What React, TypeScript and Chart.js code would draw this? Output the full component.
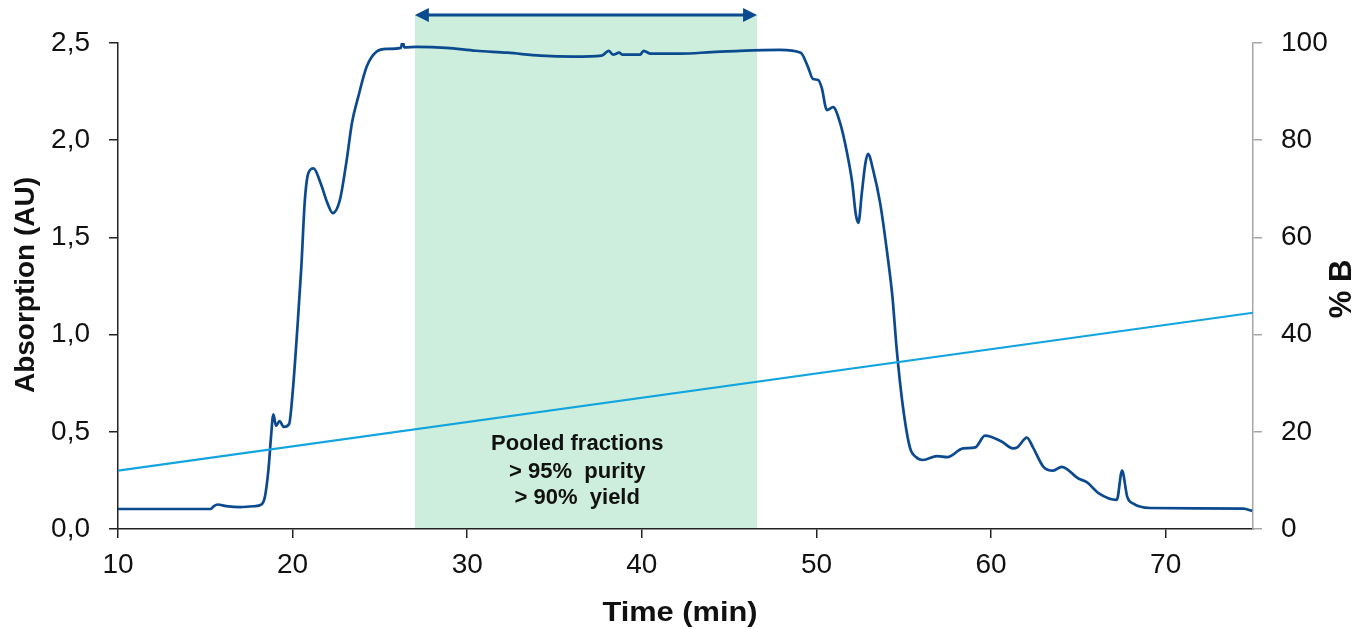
import React, { useEffect, useRef } from "react";
import { Chart, registerables } from "chart.js";

Chart.register(...registerables);

// Absorbance trace (time in min, absorption in AU)
const timeMin = [
  10, 15.3, 15.5, 15.7, 16.2, 17.0, 17.8, 18.2, 18.4, 18.55, 18.65, 18.75, 18.9, 19.05, 19.25, 19.5, 19.8,
  20.0, 20.3, 20.5, 20.7, 20.9, 21.2, 21.6, 22.0, 22.3, 22.7, 23.1, 23.4, 23.75, 24.25, 24.8, 25.4,
  26.2, 26.3, 26.4, 27.1, 28.8, 30.5, 32.3, 34.2, 36.1, 37.7, 38.1, 38.35, 38.7, 38.9, 39.9, 40.1,
  40.5, 42.2, 44.0, 45.6, 47.9, 49.1, 49.5, 49.8, 50.1, 50.3, 50.6, 50.95, 51.35, 51.75, 52.05,
  52.25, 52.4, 52.6, 52.8, 52.95, 53.25, 53.65, 54.05, 54.35, 54.6, 54.95, 55.35, 55.7, 56.1, 56.9,
  57.5, 58.4, 59.1, 59.65, 60.6, 61.25, 61.5, 62.05, 62.4, 63.0, 63.55, 64.05, 65.0, 65.5, 66.15,
  67.2, 67.5, 67.8, 68.15, 69.1, 74.45, 74.95,
];
const absorbance = [
  0.103, 0.103, 0.118, 0.126, 0.118, 0.113, 0.117, 0.125, 0.16, 0.25, 0.34, 0.46, 0.59, 0.53, 0.555, 0.525, 0.54,
  0.7, 1.07, 1.35, 1.69, 1.83, 1.855, 1.78, 1.675, 1.625, 1.69, 1.9, 2.09, 2.22, 2.38, 2.455, 2.47,
  2.475, 2.51, 2.478, 2.48, 2.475, 2.46, 2.45, 2.435, 2.43, 2.435, 2.46, 2.44, 2.45, 2.44, 2.44, 2.46,
  2.445, 2.445, 2.453, 2.46, 2.465, 2.45, 2.38, 2.315, 2.31, 2.27, 2.155, 2.17, 2.09, 1.935, 1.78,
  1.62, 1.575, 1.73, 1.88, 1.93, 1.845, 1.675, 1.42, 1.195, 0.92, 0.63, 0.42, 0.37, 0.355, 0.375,
  0.37, 0.415, 0.42, 0.48, 0.45, 0.415, 0.42, 0.47, 0.42, 0.32, 0.3, 0.32, 0.26, 0.24, 0.185,
  0.15, 0.3, 0.165, 0.13, 0.108, 0.105, 0.093,
];

// Gradient (% B)
const gradientTime = [10, 75];
const gradientB = [12, 44.5];

// Pooled fraction window (min)
const poolStart = 27.0;
const poolEnd = 46.6;
const poolLabelX = 36.3;
const poolLabels = ["Pooled fractions", "> 95%  purity", "> 90%  yield"];

// Axis labels
const xTitle = "Time (min)";
const yTitle = "Absorption (AU)";
const y2Title = "% B";

const FONT = "'Liberation Sans', Arial, sans-serif";

export default function App() {
  const ref = useRef<HTMLCanvasElement | null>(null);

  useEffect(() => {
    if (!ref.current) return;

    const overlay = {
      id: "overlay",
      beforeDraw(chart: any) {
        const { ctx, chartArea, scales } = chart;
        const x0 = scales.x.getPixelForValue(poolStart);
        const x1 = scales.x.getPixelForValue(poolEnd);
        ctx.save();
        ctx.fillStyle = "#CDEEDC";
        ctx.fillRect(x0, chartArea.top - 28, x1 - x0, chartArea.bottom - (chartArea.top - 28));
        ctx.restore();
      },
      afterDatasetsDraw(chart: any) {
        const { ctx, chartArea, scales } = chart;
        ctx.save();
        ctx.fillStyle = "#111";
        ctx.font = `bold 22px ${FONT}`;
        ctx.textAlign = "center";
        ctx.textBaseline = "middle";
        const cx = scales.x.getPixelForValue(poolLabelX);
        const offs = [85, 57, 31];
        poolLabels.forEach((t, i) => ctx.fillText(t, cx, chartArea.bottom - offs[i]));
        ctx.restore();
      },
      afterDraw(chart: any) {
        const { ctx, chartArea, scales } = chart;
        const x0 = scales.x.getPixelForValue(poolStart);
        const x1 = scales.x.getPixelForValue(poolEnd);
        const ay = chartArea.top - 28;
        ctx.save();
        ctx.strokeStyle = "#0B4A8E";
        ctx.fillStyle = "#0B4A8E";
        ctx.lineWidth = 3;
        ctx.beginPath();
        ctx.moveTo(x0 + 10, ay);
        ctx.lineTo(x1 - 10, ay);
        ctx.stroke();
        ctx.beginPath();
        ctx.moveTo(x0, ay);
        ctx.lineTo(x0 + 14, ay - 7);
        ctx.lineTo(x0 + 14, ay + 7);
        ctx.closePath();
        ctx.fill();
        ctx.beginPath();
        ctx.moveTo(x1, ay);
        ctx.lineTo(x1 - 14, ay - 7);
        ctx.lineTo(x1 - 14, ay + 7);
        ctx.closePath();
        ctx.fill();

        // titles
        ctx.fillStyle = "#111";
        ctx.textAlign = "center";
        ctx.textBaseline = "middle";
        ctx.save();
        ctx.font = `bold 28px ${FONT}`;
        ctx.translate(680, 613);
        ctx.scale(1.1, 1);
        ctx.fillText(xTitle, 0, 0);
        ctx.restore();
        const cy = (chartArea.top + chartArea.bottom) / 2;
        ctx.save();
        ctx.font = `bold 28px ${FONT}`;
        ctx.translate(26, cy - 1);
        ctx.rotate(-Math.PI / 2);
        ctx.fillText(yTitle, 0, 0);
        ctx.restore();
        ctx.save();
        ctx.font = `bold 31px ${FONT}`;
        ctx.translate(1342, cy + 3);
        ctx.rotate(-Math.PI / 2);
        ctx.fillText(y2Title, 0, 0);
        ctx.restore();
        ctx.restore();
      },
    };

    const tickFont = { family: FONT, size: 28 };

    const chart = new Chart(ref.current, {
      type: "line",
      data: {
        datasets: [
          {
            label: "% B",
            data: gradientTime.map((t, i) => ({ x: t, y: gradientB[i] })),
            yAxisID: "y2",
            borderColor: "#12A4DE",
            borderWidth: 2.2,
            pointRadius: 0,
            tension: 0,
          },
          {
            label: "Absorption",
            data: timeMin.map((t, i) => ({ x: t, y: absorbance[i] })),
            yAxisID: "y",
            borderColor: "#0B4A8E",
            borderWidth: 2.7,
            pointRadius: 0,
            cubicInterpolationMode: "monotone",
          },
        ],
      },
      plugins: [overlay],
      options: {
        responsive: false,
        animation: false,
        layout: { padding: { top: 43, left: 0, right: 0, bottom: 0 } },
        plugins: { legend: { display: false }, tooltip: { enabled: false } },
        scales: {
          x: {
            type: "linear",
            min: 10,
            max: 75,
            afterFit: (s: any) => { s.height = 100; },
            border: { display: true, color: "#222", width: 1.5 },
            grid: { drawOnChartArea: false, drawTicks: true, tickLength: 9, color: "#222", lineWidth: 1.5 },
            ticks: {
              stepSize: 10,
              includeBounds: false,
              padding: 10,
              color: "#111",
              font: tickFont,
              maxRotation: 0,
            },
          },
          y: {
            type: "linear",
            position: "left",
            min: 0,
            max: 2.5,
            afterFit: (s: any) => { s.width = 118; },
            border: { display: true, color: "#222", width: 1.5 },
            grid: { drawOnChartArea: false, drawTicks: true, tickLength: 9, color: "#222", lineWidth: 1.5 },
            ticks: {
              stepSize: 0.5,
              padding: 19,
              color: "#111",
              font: tickFont,
              callback: (v: any) => Number(v).toFixed(1).replace(".", ","),
            },
          },
          y2: {
            type: "linear",
            position: "right",
            min: 0,
            max: 100,
            afterFit: (s: any) => { s.width = 105; },
            border: { display: true, color: "#A6A6A6", width: 1.5 },
            grid: { drawOnChartArea: false, drawTicks: true, tickLength: 9, color: "#A6A6A6", lineWidth: 1.5 },
            ticks: {
              stepSize: 20,
              padding: 19,
              color: "#111",
              font: tickFont,
            },
          },
        },
      },
    } as any);

    return () => chart.destroy();
  }, []);

  return (
    <div style={{ position: "fixed", left: 0, top: 0, width: 1358, height: 629, background: "#fff" }}>
      <canvas ref={ref} width={1358} height={629} />
    </div>
  );
}
